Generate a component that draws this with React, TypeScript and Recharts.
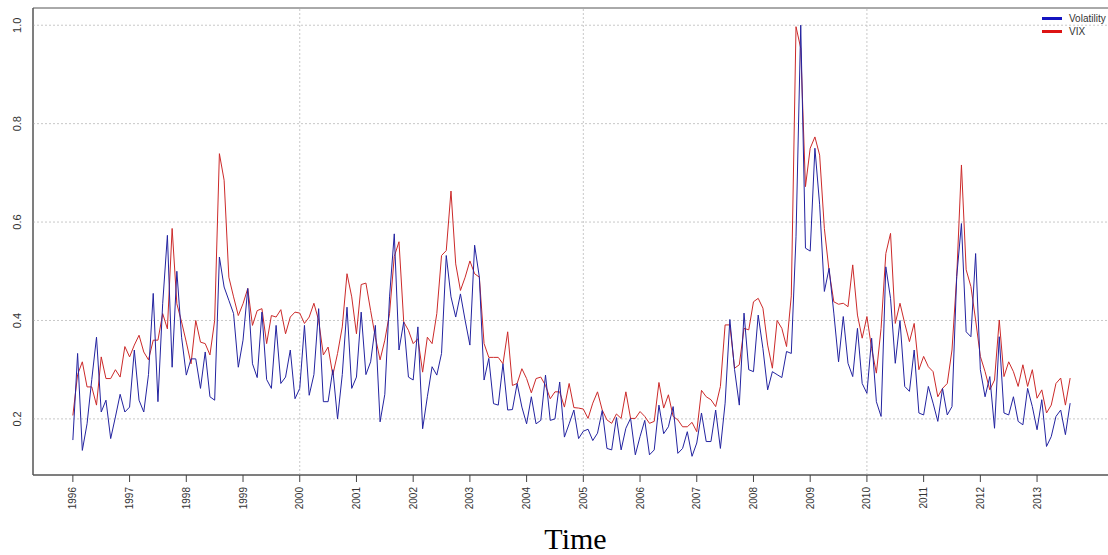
import {
  Label,
  Legend,
  Line,
  LineChart,
  ReferenceArea,
  ReferenceLine,
  XAxis,
  YAxis,
} from "recharts";

const START_YEAR = 1996;

// monthly values, Jan 1996 .. Aug 2013 (one row per year)
const VOLATILITY: number[] = [
  0.157, 0.333, 0.136, 0.19, 0.28, 0.366, 0.214, 0.238, 0.16, 0.204, 0.25, 0.214,
  0.224, 0.34, 0.238, 0.214, 0.29, 0.455, 0.235, 0.434, 0.573, 0.305, 0.5, 0.366,
  0.289, 0.322, 0.322, 0.262, 0.336, 0.245, 0.238, 0.529, 0.468, 0.441, 0.414, 0.305,
  0.36, 0.465, 0.312, 0.284, 0.417, 0.28, 0.262, 0.39, 0.272, 0.285, 0.34, 0.241,
  0.262, 0.39, 0.248, 0.29, 0.424, 0.235, 0.235, 0.3, 0.2, 0.29, 0.427, 0.262,
  0.285, 0.417, 0.29, 0.316, 0.39, 0.194, 0.25, 0.448, 0.576, 0.34, 0.397, 0.285,
  0.279, 0.387, 0.18, 0.245, 0.306, 0.289, 0.333, 0.532, 0.448, 0.407, 0.454, 0.4,
  0.35, 0.553, 0.488, 0.279, 0.323, 0.231, 0.228, 0.312, 0.218, 0.219, 0.272, 0.224,
  0.19, 0.245, 0.19, 0.197, 0.289, 0.197, 0.2, 0.275, 0.163, 0.19, 0.218, 0.16,
  0.175, 0.179, 0.156, 0.171, 0.217, 0.14, 0.137, 0.203, 0.137, 0.181, 0.201, 0.127,
  0.164, 0.197, 0.127, 0.137, 0.228, 0.17, 0.184, 0.225, 0.13, 0.14, 0.174, 0.124,
  0.151, 0.212, 0.154, 0.154, 0.218, 0.14, 0.232, 0.402, 0.3, 0.228, 0.415, 0.3,
  0.296, 0.411, 0.343, 0.259, 0.296, 0.29, 0.284, 0.337, 0.333, 0.57, 1.0, 0.547,
  0.541, 0.75, 0.635, 0.459, 0.506, 0.415, 0.316, 0.408, 0.313, 0.286, 0.384, 0.272,
  0.252, 0.364, 0.235, 0.205, 0.509, 0.445, 0.313, 0.4, 0.266, 0.256, 0.34, 0.212,
  0.208, 0.266, 0.232, 0.195, 0.262, 0.208, 0.225, 0.489, 0.597, 0.377, 0.367, 0.536,
  0.3, 0.245, 0.286, 0.181, 0.367, 0.212, 0.208, 0.245, 0.195, 0.188, 0.262, 0.225,
  0.178, 0.239, 0.144, 0.164, 0.205, 0.218, 0.168, 0.232,
];

const VIX: number[] = [
  0.207, 0.29, 0.316, 0.265, 0.265, 0.228, 0.326, 0.282, 0.282, 0.3, 0.285, 0.347,
  0.326, 0.35, 0.37, 0.336, 0.32, 0.36, 0.36, 0.414, 0.383, 0.587, 0.434, 0.397,
  0.356, 0.312, 0.4, 0.356, 0.353, 0.33, 0.4, 0.739, 0.685, 0.488, 0.448, 0.41,
  0.434, 0.465, 0.39, 0.42, 0.424, 0.353, 0.41, 0.407, 0.422, 0.373, 0.407, 0.417,
  0.415, 0.394, 0.407, 0.435, 0.4, 0.33, 0.346, 0.289, 0.333, 0.387, 0.495, 0.448,
  0.373, 0.473, 0.476, 0.42, 0.366, 0.32, 0.36, 0.414, 0.53, 0.56, 0.397, 0.38,
  0.353, 0.363, 0.295, 0.366, 0.353, 0.414, 0.532, 0.542, 0.663, 0.515, 0.461, 0.488,
  0.521, 0.495, 0.488, 0.353, 0.325, 0.325, 0.325, 0.312, 0.377, 0.268, 0.272, 0.302,
  0.282, 0.253, 0.282, 0.285, 0.268, 0.241, 0.255, 0.255, 0.224, 0.272, 0.223, 0.222,
  0.22, 0.201, 0.232, 0.255, 0.218, 0.198, 0.191, 0.21, 0.201, 0.255, 0.201, 0.201,
  0.215, 0.205, 0.191, 0.195, 0.274, 0.222, 0.249, 0.205, 0.198, 0.184, 0.184, 0.193,
  0.174, 0.258, 0.245, 0.239, 0.225, 0.266, 0.391, 0.391, 0.303, 0.31, 0.384, 0.381,
  0.438, 0.445, 0.425, 0.35, 0.303, 0.4, 0.384, 0.347, 0.45, 0.997, 0.953, 0.672,
  0.75, 0.773, 0.736, 0.587, 0.5, 0.438, 0.433, 0.435, 0.428, 0.513, 0.411, 0.364,
  0.408, 0.343, 0.293, 0.384, 0.536, 0.577, 0.394, 0.435, 0.394, 0.357, 0.394, 0.3,
  0.327, 0.306, 0.296, 0.245, 0.262, 0.272, 0.34, 0.489, 0.716, 0.503, 0.469, 0.401,
  0.327, 0.296, 0.259, 0.279, 0.401, 0.286, 0.316, 0.296, 0.266, 0.31, 0.266, 0.3,
  0.242, 0.259, 0.212, 0.228, 0.272, 0.283, 0.228, 0.283,
];

const YEAR_TICKS = [
  1996, 1997, 1998, 1999, 2000, 2001, 2002, 2003, 2004, 2005, 2006, 2007, 2008,
  2009, 2010, 2011, 2012, 2013,
];
const VALUE_TICKS = [0.2, 0.4, 0.6, 0.8, 1.0];
const YEAR_GRID = [2000, 2005, 2010];

const X_DOMAIN: [number, number] = [1995.297, 2014.286];
const Y_DOMAIN: [number, number] = [0.086, 1.035];

const BLUE = "#2323a0";
const RED = "#cc2a2a";
const GRID = "#c8c8c8";
const FONT = "'Liberation Sans', Arial, sans-serif";

const data = VOLATILITY.map((v, i) => ({
  t: START_YEAR + i / 12,
  volatility: v,
  vix: VIX[i],
}));

function YearTick({ x, y, payload }: any) {
  return (
    <text
      x={x}
      y={y}
      transform={`rotate(-90, ${x}, ${y})`}
      textAnchor="end"
      dominantBaseline="central"
      fontSize={10}
      fontFamily={FONT}
      fill="#333"
    >
      {payload.value}
    </text>
  );
}

function ValueTick({ x, y, payload }: any) {
  const cx = x - 16;
  return (
    <text
      x={cx}
      y={y}
      transform={`rotate(-90, ${cx}, ${y})`}
      textAnchor="middle"
      dominantBaseline="central"
      fontSize={11}
      fontFamily={FONT}
      fill="#333"
    >
      {Number(payload.value).toFixed(1)}
    </text>
  );
}

function KeyBox() {
  const items = [
    { name: "Volatility", color: "#1414c0" },
    { name: "VIX", color: "#dd1414" },
  ];
  return (
    <div style={{ fontFamily: FONT, fontSize: 10, color: "#333" }}>
      {items.map((it) => (
        <div
          key={it.name}
          style={{ display: "flex", alignItems: "center", height: 13 }}
        >
          <span
            style={{
              display: "inline-block",
              width: 20,
              height: 3,
              background: it.color,
              marginRight: 7,
            }}
          />
          {it.name}
        </div>
      ))}
    </div>
  );
}

export default function App() {
  return (
    <div
      style={{
        position: "absolute",
        left: 0,
        top: 0,
        width: 1108,
        height: 555,
        overflow: "hidden",
        background: "#fff",
      }}
    >
      <LineChart
        width={1112}
        height={555}
        data={data}
        margin={{ top: 8, right: 2, bottom: 0, left: 0 }}
      >
        {VALUE_TICKS.map((v) => (
          <ReferenceLine
            key={`h${v}`}
            y={v}
            stroke={GRID}
            strokeDasharray="2 2"
          />
        ))}
        {YEAR_GRID.map((yr) => (
          <ReferenceLine
            key={`v${yr}`}
            x={yr}
            stroke={GRID}
            strokeDasharray="2 2"
          />
        ))}
        <XAxis
          dataKey="t"
          type="number"
          domain={X_DOMAIN}
          allowDataOverflow
          ticks={YEAR_TICKS}
          interval={0}
          height={80}
          tickSize={7}
          tickMargin={5}
          tickLine={{ stroke: "#444" }}
          axisLine={{ stroke: "#555" }}
          tick={<YearTick />}
        >
          <Label
            value="Time"
            position="insideBottom"
            offset={6}
            dx={4}
            style={{ fontFamily: "'Liberation Serif', 'Times New Roman', serif", fontSize: 30, fill: "#000" }}
          />
        </XAxis>
        <YAxis
          type="number"
          domain={Y_DOMAIN}
          allowDataOverflow
          ticks={VALUE_TICKS}
          width={33}
          tickSize={0}
          tickMargin={0}
          tickLine={false}
          axisLine={{ stroke: "#555" }}
          tick={<ValueTick />}
        />
        <ReferenceArea
          x1={X_DOMAIN[0]}
          x2={X_DOMAIN[1]}
          y1={Y_DOMAIN[0]}
          y2={Y_DOMAIN[1]}
          fill="none"
          stroke="#555"
          ifOverflow="visible"
        />
        <Legend
          layout="vertical"
          align="center"
          verticalAlign="middle"
          content={<KeyBox />}
          wrapperStyle={{ top: 12, left: 1042, width: 70 }}
        />
        <Line
          dataKey="vix"
          name="VIX"
          stroke={RED}
          strokeWidth={1}
          dot={false}
          isAnimationActive={false}
        />
        <Line
          dataKey="volatility"
          name="Volatility"
          stroke={BLUE}
          strokeWidth={1}
          dot={false}
          isAnimationActive={false}
        />
      </LineChart>
    </div>
  );
}
